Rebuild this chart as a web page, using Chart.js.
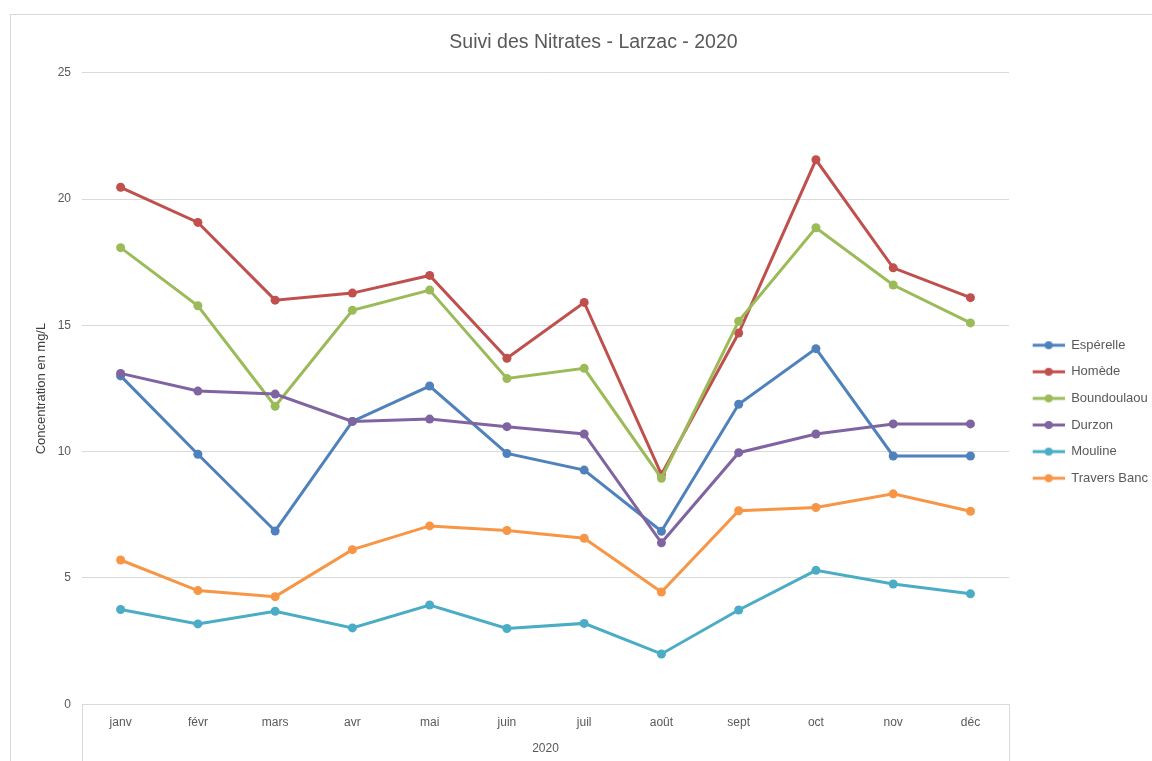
<!DOCTYPE html>
<html>
<head>
<meta charset="utf-8">
<script src="https://cdn.jsdelivr.net/npm/chart.js@4.4.1/dist/chart.umd.min.js"></script>
<style>
  html, body { margin: 0; padding: 0; background: #fff; overflow: hidden; }
  #frame {
    position: absolute; left: 10px; top: 14px; width: 1147px; height: 747px;
    border-left: 1px solid #d9d9d9; border-top: 1px solid #d9d9d9;
  }
  #wrap { position: absolute; left: 0; top: 0; width: 1147px; height: 747px; }
</style>
</head>
<body>
<div id="frame"><div id="wrap"><canvas id="chart"></canvas></div></div>
<script>
const months = ["janv", "févr", "mars", "avr", "mai", "juin", "juil", "août", "sept", "oct", "nov", "déc"];
const seriesNames = ["Espérelle", "Homède", "Boundoulaou", "Durzon", "Mouline", "Travers Banc"];
const esperelle = [13.0, 9.9, 6.86, 11.2, 12.6, 9.93, 9.27, 6.85, 11.88, 14.08, 9.83, 9.83];
const homede = [20.47, 19.08, 16.0, 16.28, 16.98, 13.7, 15.91, 9.1, 14.7, 21.56, 17.28, 16.1];
const boundoulaou = [18.08, 15.78, 11.8, 15.6, 16.4, 12.9, 13.3, 8.95, 15.17, 18.87, 16.6, 15.1];
const durzon = [13.1, 12.4, 12.28, 11.2, 11.29, 10.99, 10.7, 6.39, 9.96, 10.7, 11.1, 11.1];
const mouline = [3.75, 3.18, 3.68, 3.02, 3.93, 3.0, 3.2, 1.99, 3.73, 5.3, 4.76, 4.37];
const traversBanc = [5.71, 4.5, 4.26, 6.12, 7.06, 6.88, 6.57, 4.44, 7.66, 7.79, 8.33, 7.64];
const colors = ["#4F81BD", "#C0504D", "#9BBB59", "#8064A2", "#4BACC6", "#F79646"];

const allValues = [esperelle, homede, boundoulaou, durzon, mouline, traversBanc];
const grey = "#595959";
const gridColor = "#d9d9d9";
const fontFamily = "'Liberation Sans', Arial, sans-serif";

// legend sample: line with a dot, with a blank margin on the left
function legendSample(color) {
  const c = document.createElement("canvas");
  c.width = 42;
  c.height = 10;
  const g = c.getContext("2d");
  g.strokeStyle = color;
  g.lineWidth = 3;
  g.beginPath();
  g.moveTo(10, 5);
  g.lineTo(42, 5);
  g.stroke();
  g.fillStyle = color;
  g.beginPath();
  g.arc(26, 5, 4, 0, Math.PI * 2);
  g.fill();
  return c;
}

const datasets = seriesNames.map((name, i) => ({
  label: name,
  data: allValues[i],
  borderColor: colors[i],
  backgroundColor: colors[i],
  borderWidth: 3,
  pointRadius: 4.5,
  pointBorderWidth: 0,
  pointBackgroundColor: colors[i],
  tension: 0,
  order: seriesNames.length - i,
}));

// vertical separators of the category axis (edges of the plot)
const axisEdges = {
  id: "axisEdges",
  afterDraw(chart) {
    const { ctx, chartArea } = chart;
    ctx.save();
    ctx.strokeStyle = gridColor;
    ctx.lineWidth = 1;
    [chartArea.left, chartArea.right].forEach((x) => {
      ctx.beginPath();
      ctx.moveTo(Math.round(x) + 0.5, chartArea.bottom);
      ctx.lineTo(Math.round(x) + 0.5, chart.height);
      ctx.stroke();
    });
    ctx.restore();
  },
};

new Chart(document.getElementById("chart"), {
  type: "line",
  data: { labels: months, datasets: datasets },
  plugins: [axisEdges],
  options: {
    responsive: true,
    maintainAspectRatio: false,
    animation: false,
    layout: { padding: { left: 18, right: 0, top: 0, bottom: 2 } },
    plugins: {
      title: {
        display: true,
        text: "Suivi des Nitrates - Larzac - 2020",
        color: grey,
        font: { family: fontFamily, size: 19.5, weight: "normal" },
        padding: { top: 16, bottom: 18.5 },
      },
      legend: {
        position: "right",
        title: { display: true, text: "", padding: { top: 34, bottom: 0 } },
        labels: {
          usePointStyle: true,
          pointStyleWidth: 42,
          padding: 13.6,
          color: grey,
          font: { family: fontFamily, size: 13 },
          sort: (a, b) => a.datasetIndex - b.datasetIndex,
          generateLabels(chart) {
            const items = Chart.defaults.plugins.legend.labels.generateLabels(chart);
            items.forEach((it) => {
              it.pointStyle = legendSample(colors[it.datasetIndex]);
            });
            return items;
          },
        },
      },
      tooltip: { enabled: false },
    },
    scales: {
      x: {
        type: "category",
        offset: true,
        grid: { display: false, drawTicks: false },
        border: { display: true, color: gridColor },
        ticks: {
          color: grey,
          padding: 11,
          font: { family: fontFamily, size: 12 },
          maxRotation: 0,
        },
        title: {
          display: true,
          text: "2020",
          color: grey,
          font: { family: fontFamily, size: 12 },
          padding: { top: 1, bottom: 4 },
        },
      },
      y: {
        min: 0,
        max: 25,
        afterFit(scale) {
          scale.width = 53;
        },
        ticks: {
          stepSize: 5,
          color: grey,
          padding: 11,
          font: { family: fontFamily, size: 12 },
        },
        grid: { color: gridColor, drawTicks: false },
        border: { display: false },
        title: {
          display: true,
          text: "Concentration en mg/L",
          color: "#404040",
          font: { family: fontFamily, size: 13 },
          padding: { top: 5, bottom: 0 },
        },
      },
    },
  },
});
</script>
</body>
</html>
